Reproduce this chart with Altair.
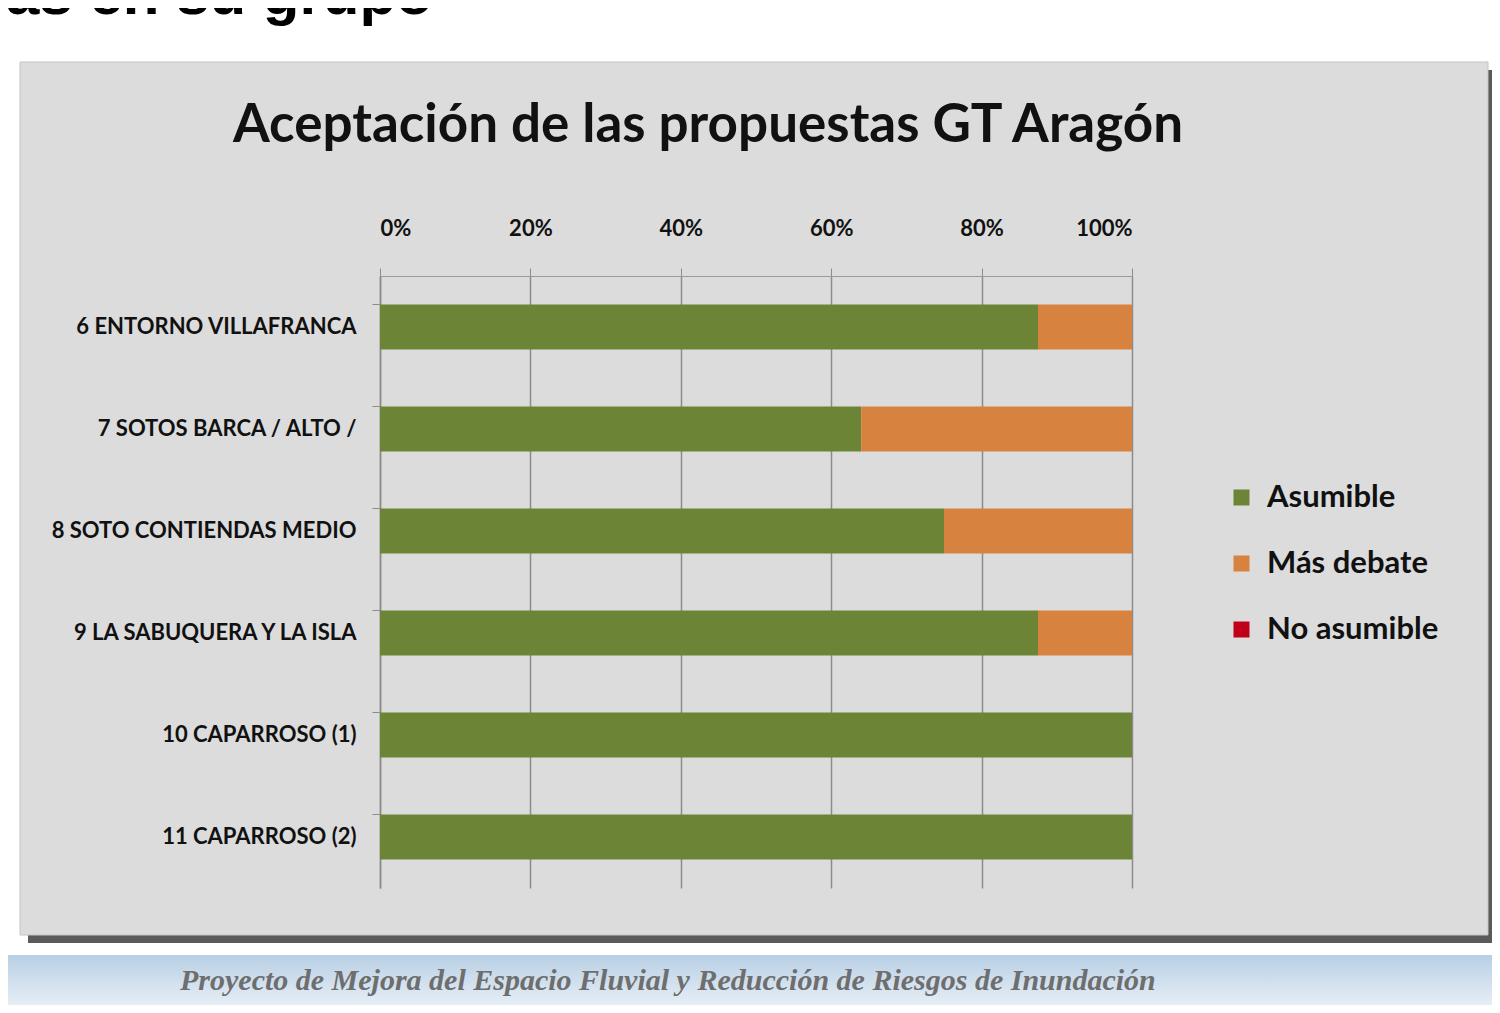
import altair as alt
import pandas as pd

# ---------------- data ----------------
categories = [
    "6 ENTORNO  VILLAFRANCA",
    "7 SOTOS BARCA / ALTO /",
    "8 SOTO CONTIENDAS  MEDIO",
    "9 LA SABUQUERA  Y LA ISLA",
    "10 CAPARROSO (1)",
    "11 CAPARROSO (2)",
]
series = ["Asumible", "Más debate", "No asumible"]
asumible = [87.5, 64, 75, 87.5, 100, 100]
mas_debate = [12.5, 36, 25, 12.5, 0, 0]
no_asumible = [0, 0, 0, 0, 0, 0]
x_ticks = [0, 20, 40, 60, 80, 100]

chart_title = ["Aceptación de las propuestas GT Aragón"]
slide_heading = ["as en su grupo"]
footer_text = ["Proyecto de Mejora del Espacio Fluvial y Reducción de Riesgos de Inundación"]

colors = ["#6b8435", "#d7823e", "#c00018"]
card_gray = "#dcdcdc"

rows = []
for i, cat in enumerate(categories):
    for j, (s, vals) in enumerate(zip(series, [asumible, mas_debate, no_asumible])):
        rows.append({"categoria": cat, "serie": s, "valor": vals[i], "orden": j})
df = pd.DataFrame(rows)

# ---------------- geometry ----------------
W, H = 752, 612
PAD = {"left": 372, "top": 268, "right": 1484 - 372 - W, "bottom": 997 - 268 - H}

one = alt.Data(values=[{"k": 1}])


def box(x1, x2, y1, y2, **kw):
    return alt.Chart(one).mark_rect(**kw).encode(
        x=alt.value(x1), x2=alt.value(x2), y=alt.value(y1), y2=alt.value(y2)
    )


def label(texts, x, y, **kw):
    return alt.Chart(alt.Data(values=[{"t": t} for t in texts])).mark_text(**kw).encode(
        text="t:N", x=alt.value(x), y=alt.value(y)
    )


white_top = box(-372, 1112, -268, -214, color="#ffffff")
white_left = box(-372, -360, -268, 729, color="#ffffff")
white_bottom = box(-372, 1112, 659, 729, color="#ffffff")
white_right = box(1108, 1112, -268, -206, color="#ffffff")
shadow_right = box(1108, 1112, -206, 667, color="#5a5a5a")
shadow_bottom = box(-352, 1112, 659, 667, color="#5a5a5a")
card_edge = box(-360, 1108, -214, 659, fill=None, fillOpacity=0,
                stroke="#c4c4c4", strokeWidth=1)
band = box(
    -372, 1112, 679, 729,
    color=alt.LinearGradient(
        gradient="linear", x1=0, y1=0, x2=0, y2=1,
        stops=[alt.GradientStop(color="#b8cfe4", offset=0),
               alt.GradientStop(color="#e6eef6", offset=1)],
    ),
)
footer = label(footer_text, -200, 714, font="Liberation Serif", fontStyle="italic",
               fontWeight="bold", fontSize=30, color="#6e6e6e",
               align="left", baseline="alphabetic")
heading = label(slide_heading, -374, -262, font="Liberation Sans", fontWeight="bold",
                fontSize=60, color="#000000", align="left", baseline="alphabetic")
title = label(chart_title, 328, -150, font="Lato", fontWeight="bold", fontSize=53,
              color="#111111", align="center", baseline="middle")

bars = alt.Chart(df).mark_bar().encode(
    y=alt.Y(
        "categoria:N", sort=categories, title=None,
        scale=alt.Scale(paddingInner=0.56, paddingOuter=0.28),
        axis=alt.Axis(
            labelFont="Lato", labelFontWeight="bold", labelFontSize=22,
            labelColor="#111111", labelPadding=16, tickSize=8,
            tickColor="#8c8c8c", domainColor="#8c8c8c", bandPosition=0,
            domainWidth=1.5, grid=False, labelLimit=0,
        ),
    ),
    x=alt.X(
        "valor:Q", stack="zero", title=None,
        scale=alt.Scale(domain=[0, 100], nice=False),
        axis=alt.Axis(
            orient="top", values=x_ticks, labelExpr="datum.value + '%'",
            labelFont="Lato", labelFontWeight="bold", labelFontSize=22,
            labelColor="#111111", labelPadding=28, tickSize=8,
            tickColor="#8c8c8c", domainColor="#9a9a9a",
            grid=True, gridColor="#8c8c8c", gridWidth=1.5,
        ),
    ),
    color=alt.Color(
        "serie:N", title=None,
        scale=alt.Scale(domain=series, range=colors),
        legend=alt.Legend(
            orient="none", legendX=846, legendY=206,
            symbolType="square", symbolSize=256, symbolStrokeWidth=0,
            labelFont="Lato", labelFontWeight="bold", labelFontSize=31,
            labelColor="#111111", rowPadding=34, labelOffset=10, labelLimit=0,
        ),
    ),
    order=alt.Order("orden:Q"),
)

chart = alt.layer(
    white_top, white_left, white_bottom, white_right,
    shadow_right, shadow_bottom, card_edge, band, footer, heading, title, bars,
).properties(
    width=W, height=H,
    autosize=alt.AutoSizeParams(type="none"),
    padding=PAD,
    background=card_gray,
).configure_view(stroke=None)

chart.save("out.html", embed_options={"renderer": "svg", "actions": False})
